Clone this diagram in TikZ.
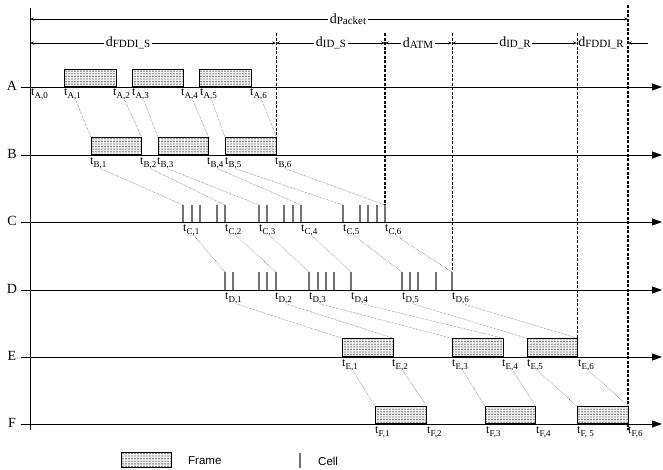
\documentclass[tikz,border=0pt]{standalone}
\usepackage{fontspec}
\setmainfont{Liberation Serif}
\newfontfamily\legendfont{Liberation Sans}
\usetikzlibrary{arrows.meta,patterns}
\pgfdeclarepatternformonly{framedots}{\pgfqpoint{-1pt}{-1pt}}{\pgfqpoint{1pt}{1pt}}{\pgfqpoint{3pt}{2.6pt}}{%
  \pgfpathcircle{\pgfqpoint{0pt}{0pt}}{0.7pt}%
  \pgfusepath{fill}%
}
\newcommand{\tlab}[1]{t\raisebox{-2.5pt}{\fontsize{9}{9}\selectfont #1}}
\newcommand{\dlab}[1]{d\raisebox{-1pt}{\fontsize{11}{11}\selectfont #1}}
\tikzset{
  axisline/.style={
    -{Triangle[length=10pt,width=7pt]},
    line width=0.8pt,
    draw=black
  },
  rowname/.style={
    font=\fontsize{14}{14}\selectfont,
    inner sep=1pt
  },
  frame/.style={
    rectangle,
    draw=black,
    line width=0.7pt,
    preaction={fill=gray!10},
    pattern=framedots,
    pattern color=black!80,
    minimum height=17pt,
    anchor=south west,
    inner sep=0pt
  },
  cell/.style={
    draw=black!55,
    line width=1.2pt
  },
  tick/.style={
    font=\fontsize{12}{12}\selectfont,
    inner sep=0pt,
    anchor=north west
  },
  link/.style={
    draw=black!75,
    densely dotted,
    line width=0.45pt
  },
  marker/.style={
    dash pattern=on 3pt off 1.5pt,
    line width=0.7pt
  },
  thickmarker/.style={
    marker,
    line width=1.4pt
  },
  span/.style={
    {Stealth[length=4pt,width=3pt]}-{Stealth[length=4pt,width=3pt]},
    line width=0.6pt
  },
  spanlabel/.style={
    fill=white,
    inner sep=1.5pt,
    font=\fontsize{14}{14}\selectfont
  },
  legendtext/.style={
    font=\legendfont\fontsize{11.5}{12}\selectfont,
    anchor=west,
    inner sep=0pt
  }
}
\begin{document}
\begin{tikzpicture}[x=1pt,y=-1pt]
  \useasboundingbox (0,0) rectangle (663,469);

  % time axis and rows
  \draw[line width=0.8pt] (30,8) -- (30,430);
  \foreach \r/\y in {A/87,B/155,C/222,D/290,E/357,F/424}{
    \node[rowname] (row\r) at (12,\y-1) {\r};
    \coordinate (beg\r) at (21,\y);
    \coordinate (end\r) at (662,\y);
    \draw[axisline] (beg\r) -- (end\r);
  }

  % boundaries of the delay parts
  \draw[marker] (276,33) -- (276,155);
  \draw[thickmarker] (385,33) -- (385,222);
  \draw[marker] (452,33) -- (452,290);
  \draw[marker] (577,33) -- (577,339);
  \draw[thickmarker] (628,5) -- (628,430);

  % delays
  \coordinate (p0) at (30,19);
  \coordinate (p1) at (628,19);
  \draw[span] (p0) -- (p1);
  \node[spanlabel] (dpk) at (348,19) {\dlab{Packet}};

  \coordinate (s0) at (30,43);
  \coordinate (s1) at (276,43);
  \coordinate (s2) at (385,43);
  \coordinate (s3) at (452,43);
  \coordinate (s4) at (577,43);
  \coordinate (s5) at (628,43);
  \coordinate (s6) at (648,43);
  \draw[span] (s0) -- (s1);
  \draw[span] (s1) -- (s2);
  \draw[span] (s2) -- (s3);
  \draw[span] (s3) -- (s4);
  \draw[-{Stealth[length=4pt,width=3pt]}, line width=0.6pt] (s6) -- (s5);
  \node[spanlabel] (dfs) at (128,43) {\dlab{FDDI\_S}};
  \node[spanlabel] (dis) at (331,43) {\dlab{ID\_S}};
  \node[spanlabel] (datm) at (418,43) {\dlab{ATM}};
  \node[spanlabel] (dir) at (515,43) {\dlab{ID\_R}};
  \node[spanlabel, inner sep=0.5pt] (dfr) at (601,43) {\dlab{FDDI\_R}};

  % frames
  \node[frame, minimum width=52pt] (fA1) at (64,87) {};
  \node[frame, minimum width=51pt] (fA2) at (132,87) {};
  \node[frame, minimum width=52pt] (fA3) at (199,87) {};
  \node[frame, minimum width=50pt] (fB1) at (91,155) {};
  \node[frame, minimum width=50pt] (fB2) at (158,155) {};
  \node[frame, minimum width=51pt] (fB3) at (225,155) {};
  \node[frame, minimum width=51pt, minimum height=18pt] (fE1) at (342,357) {};
  \node[frame, minimum width=51pt, minimum height=18pt] (fE2) at (452,357) {};
  \node[frame, minimum width=50pt, minimum height=18pt] (fE3) at (527,357) {};
  \node[frame, minimum width=51pt] (fF1) at (375,424) {};
  \node[frame, minimum width=50pt] (fF2) at (485,424) {};
  \node[frame, minimum width=51pt] (fF3) at (577,424) {};

  % cells
  \foreach \x in {183,192,200,217,225,259,267,284,293,301,343,360,368,377,385}
    \draw[cell] (\x,222) -- (\x,205);
  \foreach \x in {225,233,259,267,276,309,318,326,334,351,402,410,418,436,452}
    \draw[cell] (\x,290) -- (\x,272);
  \foreach \x/\n in {183/1,225/2,259/3,301/4,343/5,385/6}
    \coordinate (cC\n) at (\x,205);
  \foreach \x/\n in {225/1,276/2,309/3,351/4,402/5,452/6}
    \coordinate (cD\n) at (\x,272);

  % time stamps
  \foreach \x/\n in {31/0,64/1,113/2,132/3,181/4,200/5,250/6}
    \node[tick] (tA\n) at (\x,89) {\tlab{A,\n}};
  \foreach \x/\n in {90/1,140/2,157/3,207/4,225/5,275/6}
    \node[tick] (tB\n) at (\x,158) {\tlab{B,\n}};
  \foreach \x/\n in {183/1,225/2,259/3,301/4,343/5,385/6}
    \node[tick] (tC\n) at (\x,225) {\tlab{C,\n}};
  \foreach \x/\n in {225/1,275/2,309/3,351/4,402/5,452/6}
    \node[tick] (tD\n) at (\x,293) {\tlab{D,\n}};
  \foreach \x/\n in {342/1,392/2,452/3,502/4,527/5,578/6}
    \node[tick] (tE\n) at (\x,360) {\tlab{E,\n}};
  \foreach \x/\n/\s in {375/1/{F,1},427/2/{F,2},486/3/{F,3},536/4/{F,4},577/5/{F, 5},628/6/{F,6}}
    \node[tick] (tF\n) at (\x,427) {\tlab{\s}};

  % links between the rows
  \foreach \a/\b in {1/fB1.north west,2/fB1.north east,3/fB2.north west,
                     4/fB2.north east,5/fB3.north west,6/fB3.north east}
    \draw[link] (tA\a.-60) -- (\b);
  \foreach \n in {1,...,6}
    \draw[link] (tB\n.-60) -- (cC\n);
  \foreach \n in {1,...,6}
    \draw[link] (tC\n.-60) -- (cD\n);
  \foreach \a/\b in {1/fE1.north west,2/fE1.north east,3/fE2.north west,
                     4/fE2.north east,5/fE3.north west,6/fE3.north east}
    \draw[link] (tD\a.-60) -- (\b);
  \foreach \a/\b in {1/fF1.north west,2/fF1.north east,3/fF2.north west,
                     4/fF2.north east,5/fF3.north west,6/fF3.north east}
    \draw[link] (tE\a.-60) -- (\b);

  % legend
  \node[frame, minimum width=50pt, minimum height=15pt] (legframe) at (121,468) {};
  \node[legendtext] (legf) at (188,461) {Frame};
  \draw[cell] (300,468) -- (300,453);
  \node[legendtext] (legc) at (318,461) {Cell};
\end{tikzpicture}
\end{document}
